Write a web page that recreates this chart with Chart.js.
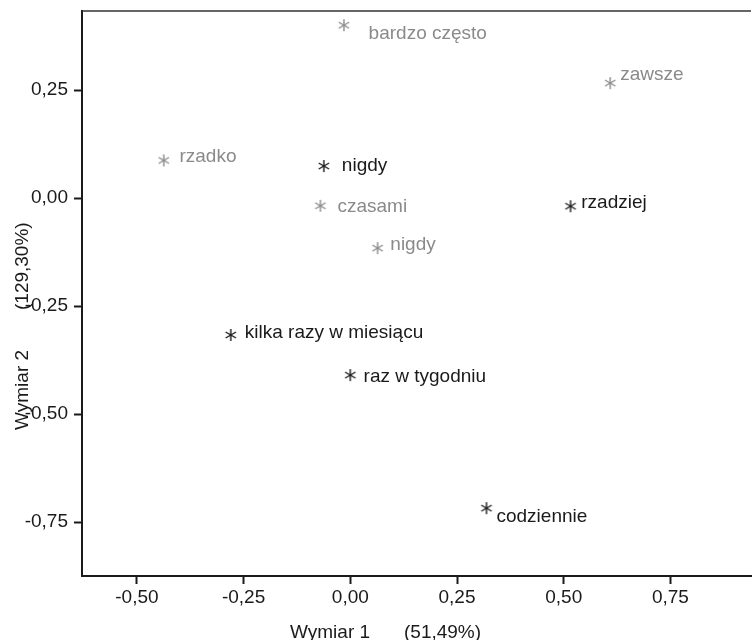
<!DOCTYPE html>
<html>
<head>
<meta charset="utf-8">
<script src="https://cdn.jsdelivr.net/npm/chart.js@4"></script>
<style>
html,body{margin:0;padding:0;background:#fff;}
canvas{display:block;}
</style>
</head>
<body>
<canvas id="c" width="756" height="640"></canvas>
<script>
// ---- data ----
const grayLabels = ['bardzo często', 'zawsze', 'rzadko', 'czasami', 'nigdy'];
const grayX = [-0.015, 0.609, -0.437, -0.070, 0.064];
const grayY = [0.400, 0.266, 0.087, -0.018, -0.116];

const blackLabels = ['nigdy', 'rzadziej', 'kilka razy w miesiącu', 'raz w tygodniu', 'codziennie'];
const blackX = [-0.062, 0.516, -0.280, 0.000, 0.319];
const blackY = [0.074, -0.019, -0.317, -0.410, -0.718];

const xTickValues = [-0.50, -0.25, 0.00, 0.25, 0.50, 0.75];
const xTickLabels = ['-0,50', '-0,25', '0,00', '0,25', '0,50', '0,75'];
const yTickValues = [-0.75, -0.50, -0.25, 0.00, 0.25];
const yTickLabels = ['-0,75', '-0,50', '-0,25', '0,00', '0,25'];

const xTitleParts = ['Wymiar 1', '(51,49%)'];
const yTitleParts = ['Wymiar 2', '(129,30%)'];

// ---- styles ----
const GRAY = '#8a8a8a';
const BLACK = '#1a1a1a';
const FONT = '"Liberation Sans", Arial, sans-serif';

function makeStar(color) {
  const s = 16, c = document.createElement('canvas');
  c.width = s; c.height = s;
  const g = c.getContext('2d');
  g.strokeStyle = color; g.lineWidth = 1.4; g.lineCap = 'butt';
  const r = 6, cx = s / 2, cy = s / 2;
  [90, 30, 150].forEach(a => {
    const t = a * Math.PI / 180;
    g.beginPath();
    g.moveTo(cx - r * Math.cos(t), cy - r * Math.sin(t));
    g.lineTo(cx + r * Math.cos(t), cy + r * Math.sin(t));
    g.stroke();
  });
  return c;
}

const labelOffsets = [
  [[24.7, 13.7], [10, -3], [15.7, 2], [17, 6], [12.7, 1.7]],
  [[18, 5.3], [10.7, 1.5], [14, 3.3], [13.3, 6.7], [10, 13.4]]
];

const pointLabelPlugin = {
  id: 'pointLabels',
  afterDatasetsDraw(chart) {
    const ctx = chart.ctx;
    ctx.save();
    ctx.font = '19px ' + FONT;
    ctx.textBaseline = 'alphabetic';
    ctx.textAlign = 'left';
    chart.data.datasets.forEach((ds, di) => {
      const meta = chart.getDatasetMeta(di);
      ctx.fillStyle = ds.textColor;
      meta.data.forEach((pt, i) => {
        const o = labelOffsets[di][i];
        ctx.fillText(ds.pointLabels[i], pt.x + o[0], pt.y + o[1]);
      });
    });
    ctx.restore();
  }
};

const framePlugin = {
  id: 'frame',
  afterDraw(chart) {
    const ctx = chart.ctx, a = chart.chartArea;
    ctx.save();
    ctx.strokeStyle = '#333';
    ctx.lineWidth = 1.5;
    ctx.beginPath();
    ctx.moveTo(a.left, a.top);
    ctx.lineTo(a.right, a.top);
    ctx.stroke();
    // axis titles
    ctx.fillStyle = BLACK;
    ctx.font = '19px ' + FONT;
    ctx.textBaseline = 'alphabetic';
    ctx.textAlign = 'left';
    ctx.fillText(xTitleParts[0], 290, 638);
    ctx.fillText(xTitleParts[1], 404, 638);
    ctx.translate(28, 0);
    ctx.rotate(-Math.PI / 2);
    ctx.fillText(yTitleParts[0], -430, 0);
    ctx.fillText(yTitleParts[1], -310, 0);
    ctx.restore();
  }
};

const datasets = [
  {
    data: grayX.map((x, i) => ({ x, y: grayY[i] })),
    pointLabels: grayLabels,
    textColor: GRAY,
    pointStyle: makeStar(GRAY),
    showLine: false
  },
  {
    data: blackX.map((x, i) => ({ x, y: blackY[i] })),
    pointLabels: blackLabels,
    textColor: BLACK,
    pointStyle: makeStar(BLACK),
    showLine: false
  }
];

new Chart(document.getElementById('c'), {
  type: 'scatter',
  data: { datasets },
  options: {
    responsive: false,
    devicePixelRatio: 1,
    animation: false,
    layout: { padding: { top: 11, right: 0, left: 0, bottom: 0 } },
    plugins: { legend: { display: false }, tooltip: { enabled: false }, title: { display: false } },
    scales: {
      x: {
        type: 'linear',
        min: -0.6286,
        max: 0.9388,
        afterBuildTicks: s => { s.ticks = xTickValues.map(v => ({ value: v })); },
        afterFit: s => { s.height = 64; s.paddingLeft = 0; s.paddingRight = 0; },
        grid: { display: true, drawOnChartArea: false, drawTicks: true, tickLength: 8, tickWidth: 2, tickColor: BLACK },
        border: { display: true, color: BLACK, width: 2 },
        ticks: {
          color: BLACK,
          font: { family: FONT, size: 19 },
          padding: 2,
          maxRotation: 0,
          autoSkip: false,
          callback: (v, i) => xTickLabels[i]
        },
        title: { display: false }
      },
      y: {
        type: 'linear',
        min: -0.875,
        max: 0.4329,
        afterBuildTicks: s => { s.ticks = yTickValues.map(v => ({ value: v })); },
        afterFit: s => { s.width = 82; s.paddingTop = 0; s.paddingBottom = 0; },
        grid: { display: true, drawOnChartArea: false, drawTicks: true, tickLength: 8, tickWidth: 2, tickColor: BLACK },
        border: { display: true, color: BLACK, width: 2 },
        ticks: {
          color: BLACK,
          font: { family: FONT, size: 19 },
          padding: 6,
          autoSkip: false,
          callback: (v, i) => yTickLabels[i]
        },
        title: { display: false }
      }
    }
  },
  plugins: [pointLabelPlugin, framePlugin]
});
</script>
</body>
</html>
